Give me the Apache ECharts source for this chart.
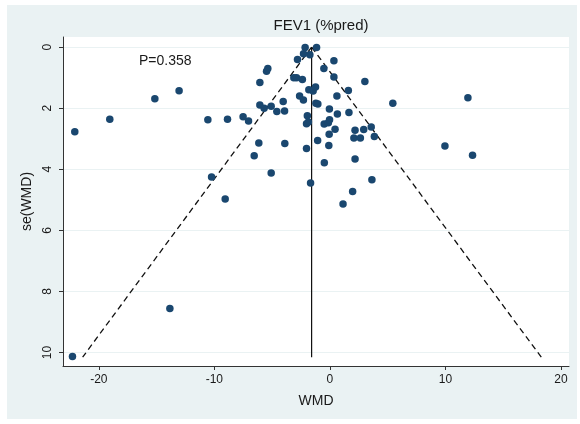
<!DOCTYPE html>
<html>
<head>
<meta charset="utf-8">
<script src="https://cdn.jsdelivr.net/npm/echarts@6/dist/echarts.min.js"></script>
<style>
  html, body { margin: 0; padding: 0; background: #ffffff; }
  #chart { width: 580px; height: 424px; }
</style>
</head>
<body>
<div id="chart"></div>
<script>
// Study estimates: WMD (x) and se(WMD) (y)
const studyWMD = [
  -22.08, -19.05, -15.15, -13.05, -10.56, -8.86, -7.51, -7.04, -6.15, -6.55,
  -10.24, -9.06, -5.08, -3.90, -6.06, -5.69, -5.08, -4.59, -3.92, -4.04,
  -6.06, -5.48, -5.37, -3.12, -2.88, -2.80, -2.62, -2.14, -1.15, -2.28,
  -1.73, 0.35, -0.52, -2.38, 0.35, 3.03, -1.82, -1.45, -1.24, 1.60,
  -2.29, -1.21, -1.04, 0.61, 5.45, 11.95, -0.04, 0.65, 1.65, -1.95,
  -2.02, -1.86, -0.49, -0.13, -0.03, 0.45, -0.06, 2.18, 2.93, 3.58,
  2.08, 2.64, 3.85, -1.06, -0.09, -2.02, 9.96, 12.35, 2.18, -0.48,
  3.64, -1.67, 1.97, 1.14, -13.85, -22.28
];
const studySE = [
  2.77, 2.36, 1.69, 1.43, 2.38, 2.36, 2.28, 2.42, 3.14, 3.56,
  4.25, 4.97, 4.12, 3.16, 1.90, 2.00, 1.94, 2.11, 2.09, 1.78,
  1.16, 0.79, 0.70, 1.00, 1.00, 0.41, 1.60, 0.01, 0.01, 0.22,
  0.25, 0.45, 0.70, 1.06, 0.98, 1.13, 1.40, 1.44, 1.31, 1.42,
  1.73, 1.84, 1.86, 1.60, 1.84, 1.66, 2.03, 2.19, 2.14, 2.25,
  2.51, 2.45, 2.52, 2.48, 2.38, 2.69, 2.85, 2.72, 2.70, 2.62,
  2.98, 2.98, 2.93, 3.06, 3.22, 3.32, 3.24, 3.54, 3.66, 3.79,
  4.34, 4.45, 4.73, 5.14, 8.56, 10.13
];
// pooled estimate line and pseudo 95% confidence limits
const pooledLine = [[-1.58, 0], [-1.58, 10.15]];
const leftLimit = [[-1.58, 0], [-21.4, 10.15]];
const rightLimit = [[-1.58, 0], [18.3, 10.15]];
const xTicks = [-20, -10, 0, 10, 20];
const yTicks = [0, 2, 4, 6, 8, 10];
const chartTitle = 'FEV1 (%pred)';
const pText = 'P=0.358';

const points = studyWMD.map((x, i) => [x, studySE[i]]);
const font = '"Liberation Sans", Arial, sans-serif';

const chart = echarts.init(document.getElementById('chart'), null, { renderer: 'canvas' });
chart.setOption({
  backgroundColor: '#ffffff',
  animation: false,
  graphic: [
    { type: 'rect', z: -100, shape: { x: 7, y: 5, width: 570, height: 414 }, style: { fill: '#eaf2f3' } },
    { type: 'text', left: 139, top: 54, z: 100, style: { text: pText, font: '14px ' + font, fill: '#1a1a1a' } }
  ],
  title: {
    text: chartTitle,
    left: 316, top: 13, textAlign: 'center',
    textStyle: { fontFamily: font, fontSize: 15, fontWeight: 'normal', color: '#1a1a1a' }
  },
  grid: {
    left: 63, top: 37, right: 11, bottom: 58,
    show: true, backgroundColor: '#ffffff', borderWidth: 0
  },
  xAxis: {
    type: 'value', min: -23.1, max: 20.7,
    name: 'WMD', nameLocation: 'middle', nameGap: 28,
    nameTextStyle: { fontFamily: font, fontSize: 14, color: '#1a1a1a' },
    axisLine: { show: true, onZero: false, lineStyle: { color: '#333333', width: 1 } },
    axisTick: { show: true, length: 4, customValues: xTicks, lineStyle: { color: '#333333' } },
    axisLabel: { customValues: xTicks, margin: 8, fontFamily: font, fontSize: 12, color: '#1a1a1a' },
    splitLine: { show: false }
  },
  yAxis: {
    type: 'value', min: -0.33, max: 10.44, inverse: true,
    name: 'se(WMD)', nameLocation: 'middle', nameGap: 22,
    nameTextStyle: { fontFamily: font, fontSize: 14, color: '#1a1a1a' },
    axisLine: { show: true, onZero: false, lineStyle: { color: '#333333', width: 1 } },
    axisTick: { show: true, length: 4, customValues: yTicks, lineStyle: { color: '#333333' } },
    axisLabel: { customValues: yTicks, rotate: 90, margin: 9, fontFamily: font, fontSize: 12, color: '#1a1a1a' },
    splitLine: { show: true, lineStyle: { color: '#eaf2f3', width: 1 } }
  },
  series: [
    {
      type: 'line', data: pooledLine, symbol: 'none', silent: true,
      lineStyle: { color: '#111111', width: 1.2 }, z: 2
    },
    {
      type: 'line', data: leftLimit, symbol: 'none', silent: true,
      lineStyle: { color: '#111111', width: 1.3, type: [6, 4] }, z: 2
    },
    {
      type: 'line', data: rightLimit, symbol: 'none', silent: true,
      lineStyle: { color: '#111111', width: 1.3, type: [6, 4] }, z: 2
    },
    {
      type: 'scatter', data: points, symbol: 'circle', symbolSize: 7.5,
      itemStyle: { color: '#1a476f', opacity: 1 }, z: 3
    }
  ]
});
</script>
</body>
</html>
